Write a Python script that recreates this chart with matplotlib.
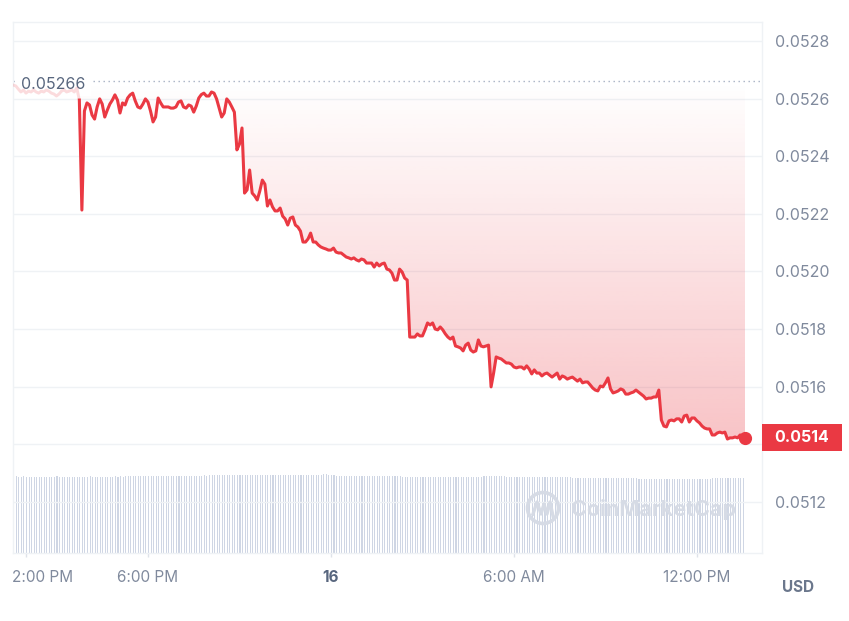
import numpy as np
import pandas as pd
import matplotlib
matplotlib.use("Agg")
import matplotlib.pyplot as plt
import matplotlib.dates as mdates
from matplotlib.patches import Rectangle, Ellipse
from matplotlib.lines import Line2D
from matplotlib.colors import to_rgb
from matplotlib.transforms import blended_transform_factory, ScaledTranslation

plt.rcParams['font.family'] = ['Inter', 'DejaVu Sans']

# ---------------- data ----------------
start_time = '2024-05-15 13:35:00'
step = '5min'
open_price = 0.05266
open_label = '0.05266'
last_label = '0.0514'
n_hidden = 26   # points drawn faded behind the open-price label

price = [
    0.052647, 0.052644, 0.052633, 0.052623, 0.052630, 0.052619, 0.052626, 0.052623, 0.052630, 0.052623, 0.052619, 0.052626,
    0.052623, 0.052630, 0.052626, 0.052619, 0.052616, 0.052609, 0.052616, 0.052626, 0.052630, 0.052623, 0.052626, 0.052630,
    0.052623, 0.052637,
    0.052595, 0.052213, 0.052557, 0.052585, 0.052578, 0.052543, 0.052529, 0.052571, 0.052599, 0.052581,
    0.052536, 0.052560, 0.052581, 0.052595, 0.052613, 0.052595, 0.052550, 0.052585, 0.052578, 0.052602,
    0.052613, 0.052619, 0.052592, 0.052571, 0.052567, 0.052581, 0.052599, 0.052588, 0.052557, 0.052519,
    0.052536, 0.052602, 0.052585, 0.052571, 0.052571, 0.052571, 0.052567, 0.052567, 0.052571, 0.052588,
    0.052592, 0.052571, 0.052567, 0.052578, 0.052574, 0.052553, 0.052574, 0.052602, 0.052614, 0.052619,
    0.052609, 0.052609, 0.052623, 0.052619, 0.052599, 0.052567, 0.052536, 0.052550, 0.052599, 0.052588,
    0.052571, 0.052553, 0.052422, 0.052442, 0.052498, 0.052272, 0.052283, 0.052352, 0.052272, 0.052262,
    0.052248, 0.052279, 0.052317, 0.052303, 0.052227, 0.052248, 0.052224, 0.052210, 0.052210, 0.052220,
    0.052192, 0.052182, 0.052161, 0.052185, 0.052189, 0.052161, 0.052154, 0.052140, 0.052102, 0.052102,
    0.052113, 0.052133, 0.052102, 0.052102, 0.052092, 0.052085, 0.052081, 0.052078, 0.052074, 0.052074,
    0.052081, 0.052067, 0.052064, 0.052064, 0.052057, 0.052050, 0.052047, 0.052043, 0.052047, 0.052040,
    0.052036, 0.052043, 0.052040, 0.052029, 0.052029, 0.052029, 0.052015, 0.052029, 0.052019, 0.052026,
    0.052029, 0.052008, 0.052005, 0.051994, 0.051970, 0.051970, 0.052008, 0.051998, 0.051977, 0.051970,
    0.051772, 0.051772, 0.051772, 0.051783, 0.051776, 0.051776, 0.051797, 0.051821, 0.051814, 0.051821,
    0.051800, 0.051797, 0.051807, 0.051797, 0.051783, 0.051772, 0.051765, 0.051772, 0.051741, 0.051738,
    0.051734, 0.051724, 0.051744, 0.051751, 0.051727, 0.051720, 0.051724, 0.051762, 0.051741, 0.051738,
    0.051741, 0.051744, 0.051599, 0.051647, 0.051703, 0.051699, 0.051696, 0.051689, 0.051682, 0.051682,
    0.051678, 0.051668, 0.051665, 0.051668, 0.051668, 0.051661, 0.051672, 0.051661, 0.051644, 0.051658,
    0.051647, 0.051647, 0.051637, 0.051644, 0.051647, 0.051640, 0.051633, 0.051640, 0.051647, 0.051626,
    0.051637, 0.051633, 0.051626, 0.051630, 0.051633, 0.051626, 0.051619, 0.051626, 0.051613, 0.051616,
    0.051616, 0.051606, 0.051595, 0.051588, 0.051585, 0.051602, 0.051599, 0.051613, 0.051630, 0.051592,
    0.051578, 0.051581, 0.051585, 0.051592, 0.051588, 0.051574, 0.051574, 0.051578, 0.051581, 0.051588,
    0.051581, 0.051574, 0.051567, 0.051557, 0.051560, 0.051560, 0.051564, 0.051564, 0.051588, 0.051484,
    0.051463, 0.051460, 0.051481, 0.051484, 0.051481, 0.051488, 0.051488, 0.051477, 0.051498, 0.051501,
    0.051477, 0.051491, 0.051491, 0.051481, 0.051474, 0.051463, 0.051456, 0.051453, 0.051453, 0.051432,
    0.051432, 0.051439, 0.051442, 0.051439, 0.051442, 0.051418, 0.051422, 0.051422, 0.051425, 0.051422,
    0.051432, 0.051422, 0.051422,
]

# 24h volume (relative units), one bar per 5 minutes
volume = [
    77, 77, 76, 76, 77, 76, 76, 76, 76, 76, 76, 76,
    76, 76, 76, 76, 76, 77, 76, 76, 76, 76, 76, 76,
    76, 76, 76, 76, 76, 76, 77, 76, 76, 76, 76, 76,
    76, 76, 76, 76, 77, 76, 77, 76, 77, 77, 77, 77,
    77, 77, 77, 77, 77, 77, 77.5, 77, 77, 77, 77, 77,
    77, 77, 77.5, 77.5, 77, 77.5, 77.5, 77.5, 77.5, 77.5, 77.5, 77.5,
    77.5, 77.5, 77.5, 78, 77.5, 78, 78, 78, 78, 78, 78, 78,
    78, 78, 78, 78, 78, 78, 78, 78, 78, 78, 78, 78,
    78, 78, 78, 78, 78, 78, 78, 78, 78, 78, 78, 78,
    78, 78, 78, 78, 78, 78, 78, 78, 78, 78, 78, 78,
    78.5, 78.5, 79, 79, 78.5, 78, 78, 77, 77, 77, 77, 77,
    77, 77, 77, 77, 77.5, 77.5, 77.5, 77.5, 77.5, 77.5, 77.5, 77,
    77, 77, 77, 77, 77, 77, 77, 77, 77, 76.5, 76.5, 76.5,
    76.5, 76.5, 76.5, 76.5, 76.5, 76.5, 76.5, 76.5, 76.5, 76.5, 76.5, 76.5,
    76.5, 76.5, 76.5, 76.5, 76.5, 76.5, 76.5, 76.5, 76.5, 76.5, 76.5, 76.5,
    76.5, 76.5, 76.5, 76.5, 76.5, 77, 77, 77, 77, 77, 77, 77,
    77, 77, 76.5, 76.5, 76.5, 76.5, 76.5, 76, 76, 76, 76, 76,
    76, 76, 76, 76, 76, 76, 76, 76, 76, 76, 76, 76,
    76, 76, 76, 76, 75.5, 75.5, 75.5, 75.5, 75.5, 75.5, 75.5, 75.5,
    75.5, 75.5, 75.5, 75.5, 75.5, 75.5, 75, 75, 75, 75, 75, 75,
    75, 75, 75, 75, 75, 75, 74.5, 74.5, 74.5, 74.5, 74.5, 74.5,
    74.5, 74.5, 74.5, 74, 74, 74, 74, 74, 74, 74, 74, 74,
    74, 74, 74, 74, 74, 74, 74, 74, 74, 74.5, 74.5, 75,
    75, 75, 75, 75, 75, 75, 75, 75, 75, 75, 75, 75,
]

y_ticks = [0.0512, 0.0514, 0.0516, 0.0518, 0.0520, 0.0522, 0.0524, 0.0526, 0.0528]
y_tick_labels = ['0.0512', '0.0514', '0.0516', '0.0518', '0.0520', '0.0522', '0.0524', '0.0526', '0.0528']
x_tick_times = ['2024-05-15 14:00:00', '2024-05-15 18:00:00', '2024-05-16 00:00:00',
                '2024-05-16 06:00:00', '2024-05-16 12:00:00']
x_tick_labels = ['2:00 PM', '6:00 PM', '16', '6:00 AM', '12:00 PM']
x_range = ['2024-05-15 13:33:30', '2024-05-16 14:08:00']
y_range = [0.0510222, 0.052866]
vol_range = [0, 531]

# ---------------- style ----------------
RED = '#ea3943'
GRID = '#eff2f5'
LABEL = '#808a9d'
DARK = '#58667e'
VOLC = '#cfd6e4'

W, H = 849, 621
fig = plt.figure(figsize=(W / 100, H / 100), dpi=100)
fig.patch.set_facecolor('white')

L, R, T, B = 12.5, 762, 22, 553
pos = [L / W, 1 - B / H, (R - L) / W, (B - T) / H]

times = pd.date_range(start_time, periods=len(price), freq=step)
xn = mdates.date2num(times)
vtimes = pd.date_range(start_time, periods=len(volume), freq=step)
vx = mdates.date2num(vtimes)
xlim = mdates.date2num(pd.to_datetime(x_range))
step_days = 5 / (24 * 60)

# volume axes (background)
axv = fig.add_axes(pos, zorder=0)
axv.bar(vx, volume, width=step_days * 0.42, align='edge', color=VOLC, linewidth=0)
axv.set_xlim(*xlim)
axv.set_ylim(*vol_range)
axv.axis('off')

# price axes
ax = fig.add_axes(pos, zorder=1)
ax.patch.set_alpha(0)
ax.set_xlim(*xlim)
ax.set_ylim(*y_range)

for s in ax.spines.values():
    s.set_color(GRID)
    s.set_linewidth(1)

ax.set_yticks(y_ticks)
ax.set_yticklabels(y_tick_labels)
ax.yaxis.tick_right()
ax.tick_params(axis='y', length=0, pad=9.5, labelsize=11.5, labelcolor=LABEL)
ax.grid(axis='y', color=GRID, linewidth=1)
ax.set_axisbelow(True)
for tk, lab in zip(ax.yaxis.get_major_ticks(), y_tick_labels):
    if lab == last_label:
        tk.label2.set_visible(False)   # covered by the last-price tag

xt = mdates.date2num(pd.to_datetime(x_tick_times))
ax.set_xticks(xt)
ax.set_xticklabels(x_tick_labels)
ax.tick_params(axis='x', length=3, width=1, color='#dfe3ea', pad=9, labelsize=11, labelcolor=LABEL)
for i, lbl in enumerate(ax.get_xticklabels()):
    if x_tick_labels[i] == '16':
        lbl.set_fontweight('bold')
        lbl.set_color(DARK)
first = ax.get_xticklabels()[0]
first.set_horizontalalignment('left')
first.set_transform(first.get_transform() + ScaledTranslation(-13.5 / 100, 0, fig.dpi_scale_trans))

# gradient fill between price and open price
poly = ax.fill_between(xn, price, open_price, color='none', linewidth=0)
n = 256
rgba = np.zeros((n, 1, 4))
rgba[:, 0, :3] = to_rgb(RED)
rgba[:, 0, 3] = np.linspace(0.30, 0.0, n)
grad_bottom = min(price)
im = ax.imshow(rgba, extent=[xn[0], xn[-1], grad_bottom, open_price], origin='lower',
               aspect='auto', zorder=1, interpolation='bilinear')
im.set_clip_path(poly.get_paths()[0], transform=ax.transData)
ax.set_xlim(*xlim)
ax.set_ylim(*y_range)

# open price dotted line + label
ax.axhline(open_price, color='#a6b0c3', linestyle=(0, (1, 2.6)), linewidth=1, zorder=2)
bt = blended_transform_factory(ax.transAxes, ax.transData)
ax.text(9 / (R - L), open_price - 0.0000095, open_label, transform=bt,
        ha='left', va='center', fontsize=11.5, color=DARK, zorder=5,
        bbox=dict(boxstyle='square,pad=0.3', facecolor='white', edgecolor='none'))

# price line (early part faded behind the label)
ax.plot(xn[:n_hidden + 1], price[:n_hidden + 1], color=RED, alpha=0.18, linewidth=2.1,
        solid_joinstyle='round', zorder=6)
ax.plot(xn[n_hidden:], price[n_hidden:], color=RED, linewidth=2.2, solid_joinstyle='round', zorder=3)
ax.plot(xn[-1], price[-1], 'o', color=RED, markersize=8.5, zorder=4, clip_on=False)

# last price tag on the right axis
box_w = 80 / (R - L)
box_h = 27 / (B - T) * (y_range[1] - y_range[0])
ax.add_patch(Rectangle((1.0, price[-1] - box_h / 2), box_w, box_h, transform=bt,
                       facecolor=RED, edgecolor='none', clip_on=False, zorder=6))
ax.text(1.0 + box_w / 2, price[-1], last_label, transform=bt, ha='center', va='center',
        fontsize=11.5, fontweight='bold', color='white', zorder=7, clip_on=False)

# currency label
fig.text(798 / W, 1 - 587 / H, 'USD', ha='center', va='center', fontsize=11,
         fontweight='bold', color='#6b778c')

# watermark
WM = '#d6dbe5'
fig.text(654 / W, 1 - 509 / H, 'CoinMarketCap', ha='center', va='center', fontsize=15.5,
         fontweight='bold', color=WM, zorder=10)
fig.add_artist(Ellipse((543 / W, 1 - 508 / H), 31 / W, 31 / H, transform=fig.transFigure,
                       facecolor='none', edgecolor=WM, linewidth=2.6, zorder=10))
zx = np.array([533, 537, 541, 544, 547, 550, 553]) / W
zy = 1 - np.array([514, 502, 514, 504, 514, 502, 516]) / H
fig.add_artist(Line2D(zx, zy, transform=fig.transFigure, color=WM, linewidth=2.4,
                      solid_joinstyle='round', zorder=10))

fig.savefig('out.png', dpi=100, facecolor='white')
